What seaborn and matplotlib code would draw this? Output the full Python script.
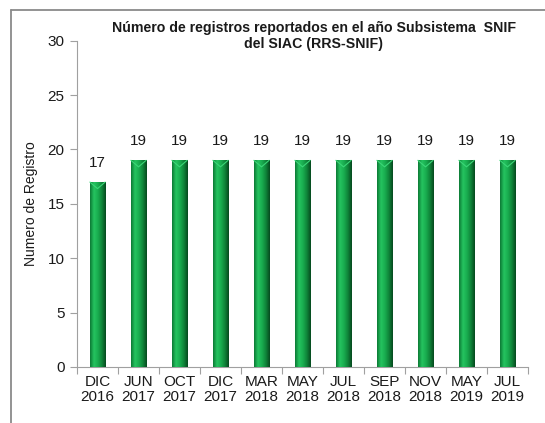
import pandas as pd
import matplotlib.pyplot as plt
import seaborn as sns
import numpy as np
from matplotlib.lines import Line2D

# datos del grafico
periodos = ['DIC\n2016', 'JUN\n2017', 'OCT\n2017', 'DIC\n2017', 'MAR\n2018', 'MAY\n2018',
            'JUL\n2018', 'SEP\n2018', 'NOV\n2018', 'MAY\n2019', 'JUL\n2019']
registros = [17, 19, 19, 19, 19, 19, 19, 19, 19, 19, 19]

df = pd.DataFrame({'Periodo': periodos, 'Registros': registros})

sns.set_theme(style='white')
plt.rcParams['font.family'] = ['Liberation Sans', 'DejaVu Sans']

fig = plt.figure(figsize=(5.45, 4.23), dpi=100)
ax = fig.add_axes([0.1413, 0.1324, 0.8275, 0.7714])

sns.barplot(x='Periodo', y='Registros', data=df, color='#16a04a', width=0.37,
            edgecolor='#0b5e2a', linewidth=0.6, ax=ax, saturation=1)

# sombreado tipo cilindro
cmap = plt.matplotlib.colors.LinearSegmentedColormap.from_list(
    'verde', ['#0c7a35', '#25c460', '#19ad4f', '#0f8439', '#064a1f'])
grad = np.linspace(0, 1, 64).reshape(1, -1)
for p in ax.patches:
    x0, w, h = p.get_x(), p.get_width(), p.get_height()
    ax.imshow(grad, extent=[x0, x0 + w, 0, h], aspect='auto', cmap=cmap, zorder=3)
    ax.plot([x0, x0 + w / 2, x0 + w], [h, h - 0.6, h], color='#3bd677', lw=0.8, zorder=4)

ax.set_xlim(-0.5, len(periodos) - 0.5)
ax.set_ylim(0, 30)
ax.set_yticks([0, 5, 10, 15, 20, 25, 30])

for i, v in enumerate(registros):
    ax.text(i, v + 1.1, str(v), ha='center', va='bottom', fontsize=11, color='#1a1a1a')

ax.set_xticks(np.arange(len(periodos)))
ax.set_xticklabels(periodos, fontsize=11, color='#1a1a1a', linespacing=1.1)
ax.set_xticks(np.arange(-0.5, len(periodos)), minor=True)
ax.tick_params(axis='x', which='major', length=0, pad=6)
ax.tick_params(axis='x', which='minor', length=5, color='#a0a0a0', width=0.8, direction='out', bottom=True)
ax.tick_params(axis='y', length=5, color='#a0a0a0', width=0.8, direction='out', left=True,
               labelsize=11, labelcolor='#1a1a1a', pad=4)

ax.set_xlabel('')
ax.set_ylabel('Numero de Registro', fontsize=10, color='#1a1a1a', labelpad=7)
sns.despine(ax=ax)
for s in ['left', 'bottom']:
    ax.spines[s].set_color('#a0a0a0')
    ax.spines[s].set_linewidth(0.8)

fig.text(314 / 545, 1 - 21 / 423, 'Número de registros reportados en el año Subsistema  SNIF\ndel SIAC (RRS-SNIF)',
         ha='center', va='top', fontsize=10.2, fontweight='bold', color='#1a1a1a', linespacing=1.15)

# marco exterior
fig.add_artist(Line2D([11 / 545, 11 / 545], [0, 1 - 10 / 423], color='#8a8a8a', lw=1.3))
fig.add_artist(Line2D([11 / 545, 1], [1 - 10 / 423, 1 - 10 / 423], color='#8a8a8a', lw=1.3))

plt.savefig('out.png', dpi=100)
